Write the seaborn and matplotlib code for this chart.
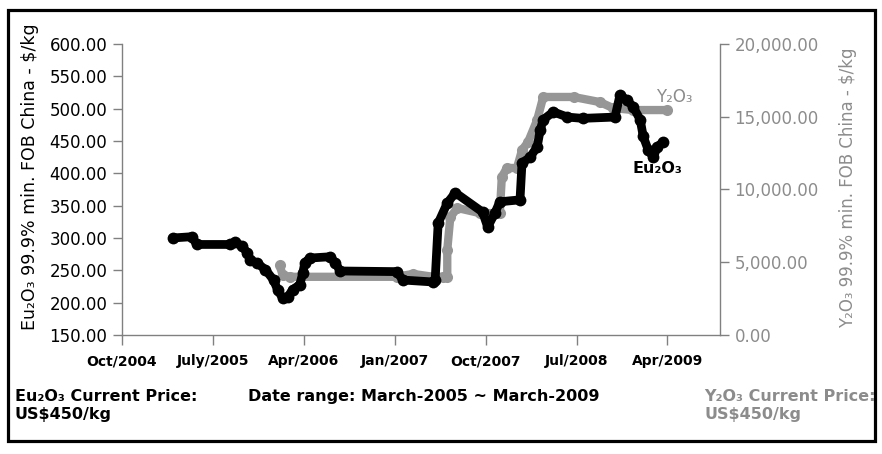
import matplotlib
matplotlib.use("Agg")
import matplotlib.pyplot as plt
from matplotlib.patches import Rectangle
from matplotlib.ticker import FuncFormatter
import seaborn as sns
import pandas as pd

# ---- data (months since Oct 2004) ----
eu_month = [5.0, 6.9, 7.4, 10.7, 11.2, 11.9, 12.4, 12.7, 13.4, 14.2, 15.0, 15.4, 15.9,
            16.4, 16.9, 17.6, 17.9, 18.1, 18.6, 20.6, 21.1, 21.6, 27.2, 27.8, 30.8, 31.0,
            31.3, 32.2, 33.0, 35.7, 36.2, 36.9, 37.4, 39.4, 39.6, 40.4, 41.1, 41.4, 41.7,
            42.7, 44.1, 45.6, 48.8, 49.3, 50.0, 50.6, 51.3, 51.6, 52.1, 52.6, 53.0, 53.6]
eu_price = [300, 302, 290, 290, 294, 287, 277, 266, 261, 251, 235, 220, 207,
            209, 220, 228, 246, 262, 269, 271, 262, 249, 248, 235, 232, 235,
            323, 354, 370, 340, 317, 338, 356, 359, 416, 425, 441, 467, 483,
            495, 487, 485, 487, 521, 513, 503, 483, 457, 436, 425, 441, 449]

y_month = [15.6, 15.9, 16.6, 27.2, 28.8, 30.8, 31.8, 32.2, 32.2, 32.5, 33.2, 35.4, 37.4,
           37.6, 38.1, 39.1, 39.6, 40.2, 41.1, 41.7, 44.7, 47.3, 48.6, 50.6, 54.0]
y_price = [4800, 4120, 4000, 4000, 4200, 4000, 4000, 4000, 5840, 8100, 8730, 8380, 8380,
           10860, 11480, 11480, 12710, 13260, 14780, 16360, 16360, 16010, 15600, 15460, 15460]

tick_months = [0, 9, 18, 27, 36, 45, 54]
tick_labels = ["Oct/2004", "July/2005", "Apr/2006", "Jan/2007", "Oct/2007", "Jul/2008", "Apr/2009"]
left_ticks = [150, 200, 250, 300, 350, 400, 450, 500, 550, 600]
right_ticks = [0, 5000, 10000, 15000, 20000]

eu_df = pd.DataFrame({"month": eu_month, "price": eu_price})
y_df = pd.DataFrame({"month": y_month, "price": y_price})

sns.set_theme(style="white")
plt.rcParams["font.family"] = ["DejaVu Sans"]

W, H = 882, 454
fig = plt.figure(figsize=(W / 100, H / 100), dpi=100)
fig.patch.set_facecolor("white")

L, R, T, B = 122, 720, 44, 335
ax = fig.add_axes([L / W, 1 - B / H, (R - L) / W, (B - T) / H])
ax2 = ax.twinx()
ax.set_zorder(ax2.get_zorder() + 1)
ax.patch.set_visible(False)

GREY = "#969696"
TXTGREY = "#8c8c8c"
SPINE = "#808080"

sns.lineplot(data=y_df, x="month", y="price", ax=ax2, estimator=None, sort=False,
             color=GREY, linewidth=6.0, marker="o", markersize=8, markeredgewidth=0,
             solid_joinstyle="round", solid_capstyle="round")
sns.lineplot(data=eu_df, x="month", y="price", ax=ax, estimator=None, sort=False,
             color="black", linewidth=6.3, marker="o", markersize=8.5, markeredgewidth=0,
             solid_joinstyle="round", solid_capstyle="round")

ax.set_xlim(0, 59.2)
ax.set_ylim(150, 600)
ax2.set_ylim(0, 20000)
ax.set_xticks(tick_months)
ax.set_xticklabels(tick_labels, fontsize=10, fontweight="bold", color="black")
ax.set_yticks(left_ticks)
ax.yaxis.set_major_formatter(FuncFormatter(lambda v, p: f"{v:.2f}"))
ax2.set_yticks(right_ticks)
ax2.yaxis.set_major_formatter(FuncFormatter(lambda v, p: f"{v:,.2f}"))

for a in (ax, ax2):
    for s in a.spines.values():
        s.set_visible(False)
ax.spines["left"].set_visible(True)
ax.spines["bottom"].set_visible(True)
ax2.spines["right"].set_visible(True)
for s in (ax.spines["left"], ax.spines["bottom"], ax2.spines["right"]):
    s.set_color(SPINE)
    s.set_linewidth(1.0)

ax.tick_params(axis="y", which="major", left=True, length=6.5, width=1, color=SPINE,
               labelsize=12, labelcolor="black", pad=4)
ax.tick_params(axis="x", which="major", bottom=True, length=7, width=1, color=SPINE, pad=7)
ax2.tick_params(axis="y", which="major", right=True, length=6.5, width=1, color=SPINE,
                labelsize=12, labelcolor=TXTGREY, pad=4)

ax.set_xlabel("")
ax.set_ylabel("Eu₂O₃ 99.9% min. FOB China - $/kg", fontsize=12.5, color="black")
ax.yaxis.set_label_coords(-(L - 30) / (R - L), (B - 177) / (B - T))
ax.yaxis.label.set_va("center")
ax2.set_ylabel("Y₂O₃ 99.9% min. FOB China - $/kg", fontsize=12, color=TXTGREY)
ax2.yaxis.set_label_coords((848 - L) / (R - L), (B - 188) / (B - T))
ax2.yaxis.label.set_va("center")
ax2.yaxis.label.set_rotation(90)

# series labels
ax.text(54.7, 518, "Y₂O₃", fontsize=12, color=TXTGREY, ha="center", va="center")
ax.text(53.0, 408, "Eu₂O₃", fontsize=11.5, fontweight="bold", color="black",
        ha="center", va="center")

# bottom notes
def ftxt(x, y, s, **kw):
    fig.text(x / W, 1 - y / H, s, fontsize=11.5, fontweight="bold", va="baseline", **kw)

ftxt(15, 401, "Eu₂O₃ Current Price:", color="black")
ftxt(15, 419, "US$450/kg", color="black")
ftxt(248, 401, "Date range: March-2005 ~ March-2009", color="black")
ftxt(704, 401, "Y₂O₃ Current Price:", color=TXTGREY)
ftxt(704, 419, "US$450/kg", color=TXTGREY)

# frame
fig.add_artist(Rectangle((8 / W, 1 - 441 / H), (875 - 8) / W, (441 - 10) / H,
                         transform=fig.transFigure, fill=False, edgecolor="black",
                         linewidth=2.3, zorder=10))
# mask overflow beyond frame on right
fig.add_artist(Rectangle((876.2 / W, 0), 10 / W, 1, transform=fig.transFigure,
                         facecolor="white", edgecolor="none", zorder=9))

fig.savefig("out.png", dpi=100)
